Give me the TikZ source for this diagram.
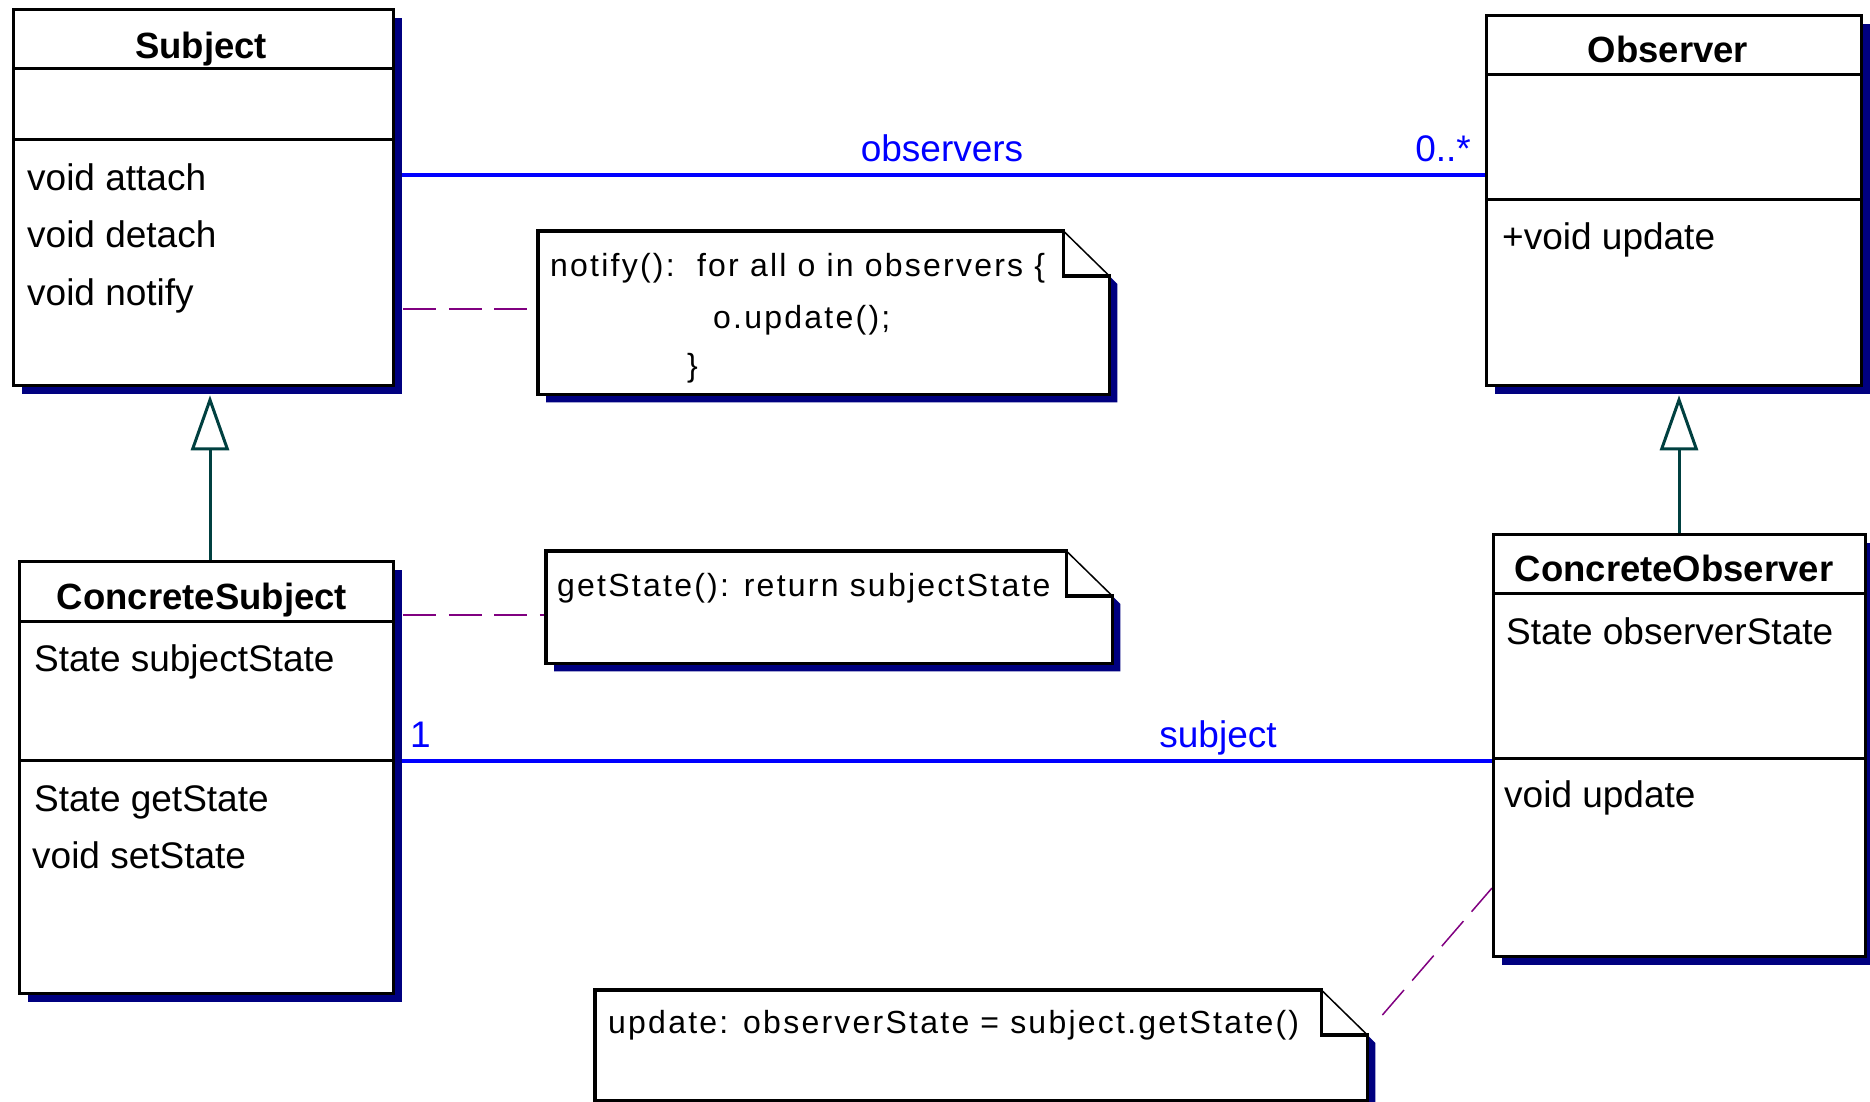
\documentclass[tikz,border=0pt]{standalone}
\usepackage{fontspec}
\setmainfont{Liberation Sans}
\newfontfamily\notefont[LetterSpace=7]{Liberation Sans}
\usetikzlibrary{calc,arrows.meta,shadows}
\pgfdeclarelayer{bg}
\pgfsetlayers{bg,main}
\definecolor{umlnavy}{RGB}{0,0,128}
\definecolor{umlblue}{RGB}{0,0,255}
\definecolor{umlpurple}{RGB}{128,0,128}
\definecolor{umlteal}{RGB}{0,64,64}

\tikzset{
  classbox/.style={rectangle, draw=black, line width=3.3pt, fill=white, inner sep=0pt,
    anchor=north west, general shadow={shadow xshift=8pt, shadow yshift=-8pt, fill=umlnavy}},
  divider/.style={draw=black, line width=3pt},
  classtitle/.style={font=\fontsize{36.5}{44}\selectfont\bfseries, anchor=base, inner sep=0pt},
  member/.style={font=\fontsize{37}{44}\selectfont, anchor=base west, inner sep=0pt},
  rolelabel/.style={member, text=umlblue},
  notetext/.style={font=\notefont\fontsize{32}{38}\selectfont, anchor=base west, inner sep=0pt},
  notebox/.style={rectangle, inner sep=0pt, anchor=north west, draw=none},
  noteline/.style={draw=black, line width=3.3pt, line join=miter},
  assoc/.style={draw=umlblue, line width=3.3pt},
  notelink/.style={draw=umlpurple, line width=2.7pt, dash pattern=on 33pt off 12.5pt},
  gen/.style={draw=umlteal, line width=3pt, -{Triangle[open, length=55pt, width=38pt]}},
}

% note with a folded top-right corner and an offset shadow
\newcommand\drawnote[1]{%
  \fill[umlnavy] ($(#1.south west)+(8,8)$) -- ($(#1.north west)+(8,8)$)
    -- ($(#1.north east)+(-38,8)$) -- ($(#1.north east)+(8,53)$)
    -- ($(#1.south east)+(8,8)$) -- cycle;
  \fill[white] (#1.south west) -- (#1.north west) -- ($(#1.north east)+(-46,0)$)
    -- ($(#1.north east)+(0,45)$) -- (#1.south east) -- cycle;
  \draw[noteline] ($(#1.north east)+(-46,0)$) -- (#1.north west) -- (#1.south west)
    -- (#1.south east) -- ($(#1.north east)+(0,45)$) -- ($(#1.north east)+(-46,45)$)
    -- cycle;
  \draw[black, line width=1.5pt] ($(#1.north east)+(-46,0)$) -- ($(#1.north east)+(0,45)$);
}

\begin{document}
\begin{tikzpicture}[x=1pt, y=-1pt]
\useasboundingbox (0,0) rectangle (1870,1102);

% ---------- Subject ----------
\node[classbox, minimum width=380pt, minimum height=376pt] (subj) at (12,8) {};
\draw[divider] ($(subj.north west)+(0,61)$) -- ($(subj.north east)+(0,61)$);
\draw[divider] ($(subj.north west)+(0,132)$) -- ($(subj.north east)+(0,132)$);
\node[classtitle] (subjT) at (201,59) {Subject};
\node[member] (subjM1) at (27,190) {void attach};
\node[member] (subjM2) at (27,247) {void detach};
\node[member] (subjM3) at (27,305) {void notify};

% ---------- Observer ----------
\node[classbox, minimum width=375pt, minimum height=370pt] (obs) at (1485,14) {};
\draw[divider] ($(obs.north west)+(0,61)$) -- ($(obs.north east)+(0,61)$);
\draw[divider] ($(obs.north west)+(0,186)$) -- ($(obs.north east)+(0,186)$);
\node[classtitle] (obsT) at (1668,63) {Observer};
\node[member] (obsM1) at (1502,249) {+void update};

% ---------- ConcreteSubject ----------
\node[classbox, minimum width=374pt, minimum height=432pt] (cs) at (18,560) {};
\draw[divider] ($(cs.north west)+(0,61)$) -- ($(cs.north east)+(0,61)$);
\draw[divider] ($(cs.north west)+(0,200)$) -- ($(cs.north east)+(0,200)$);
\node[classtitle] (csT) at (202,609) {ConcreteSubject};
\node[member] (csA1) at (34,671) {State subjectState};
\node[member] (csM1) at (34,811) {State getState};
\node[member] (csM2) at (32,868) {void setState};

% ---------- ConcreteObserver ----------
\node[classbox, minimum width=372pt, minimum height=422pt] (co) at (1492,533) {};
\draw[divider] ($(co.north west)+(0,60)$) -- ($(co.north east)+(0,60)$);
\draw[divider] ($(co.north west)+(0,225)$) -- ($(co.north east)+(0,225)$);
\node[classtitle] (coT) at (1674,581) {ConcreteObserver};
\node[member] (coA1) at (1506,644) {State observerState};
\node[member] (coM1) at (1504,807) {void update};

% ---------- notes ----------
\node[notebox, minimum width=571pt, minimum height=163pt] (n1) at (538,231) {};
\drawnote{n1}
\node[notetext] (n1a) at (550,276) {notify():\ \ for all o in observers \{};
\node[notetext] (n1b) at (713,328) {o.update();};
\node[notetext] (n1c) at (687,376) {\}};

\node[notebox, minimum width=566pt, minimum height=112pt] (n2) at (546,551) {};
\drawnote{n2}
\node[notetext] (n2a) at (557,596) {getState(): return subjectState};

\node[notebox, minimum width=772pt, minimum height=110pt] (n3) at (595,990) {};
\drawnote{n3}
\node[notetext] (n3a) at (608,1033) {update: observerState = subject.getState()};

% ---------- role labels ----------
\node[rolelabel, anchor=base] (lObs) at (942,162) {observers};
\node[rolelabel, anchor=base east] (lMany) at (1471,162) {0..*};
\node[rolelabel, anchor=base] (lSubj) at (1218,747) {subject};
\node[rolelabel, anchor=base west] (lOne) at (410,747) {1};

% ---------- connectors ----------
\begin{pgfonlayer}{bg}
  % associations
  \draw[assoc] ($(subj.north east)+(0,167)$) coordinate (a1) -- (a1 -| obs.west);
  \draw[assoc] ($(cs.north east)+(0,201)$) coordinate (a2) -- (a2 -| co.west);
  % note links
  \draw[notelink] ($(subj.north east)+(8,301)$) coordinate (d1) -- (d1 -| n1.west);
  \draw[notelink] ($(cs.north east)+(8,55)$) coordinate (d2) -- (d2 -| n2.west);
  \draw[notelink, line width=1.5pt] ($(n3.north east)+(15,25)$) coordinate (d3)
    -- ($(co.north west)+(0,355)$);
  % generalizations
  \coordinate (g1) at ($(subj.south west)+(198,8)$);
  \draw[gen] (cs.north -| g1) -- (g1);
  \coordinate (g2) at ($(obs.south west)+(194,8)$);
  \draw[gen] (co.north -| g2) -- (g2);
\end{pgfonlayer}
\end{tikzpicture}
\end{document}
